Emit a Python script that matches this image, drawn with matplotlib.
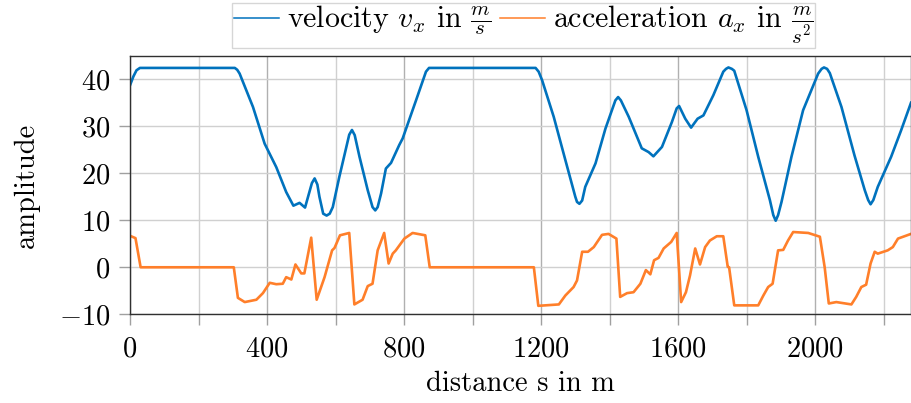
import numpy as np
import matplotlib
matplotlib.use("Agg")
import matplotlib.pyplot as plt
from matplotlib.ticker import MultipleLocator

# data
v_s = [0, 10, 19, 29, 306, 313, 320, 359, 393, 427, 456, 477, 495, 511, 531,
       539, 547, 553, 564, 574, 583, 592, 611, 640, 648, 656, 670, 694, 708, 716,
       723, 733, 747, 762, 786, 796, 835, 864, 873, 1184, 1193, 1203, 1237, 1271, 1300,
       1305, 1312, 1320, 1329, 1359, 1388, 1417, 1425, 1433, 1456, 1494, 1514, 1528, 1553, 1582,
       1596, 1603, 1611, 1621, 1638, 1657, 1674, 1703, 1732, 1740, 1747, 1757, 1764, 1800, 1834,
       1868, 1878, 1885, 1892, 1902, 1931, 1965, 2009, 2019, 2026, 2035, 2043, 2077, 2115, 2145,
       2155, 2162, 2170, 2183, 2222, 2251, 2280]
v_x = [38.7, 40.6, 41.9, 42.4, 42.4, 42.0, 41.2, 34.1, 26.3, 21.3, 16.0, 13.1, 13.7, 12.7, 17.9,
       18.9, 17.6, 15.0, 11.4, 11.0, 11.4, 12.8, 19.2, 28.2, 29.2, 28.1, 23.5, 16.4, 12.8, 12.1,
       12.8, 15.7, 21.0, 22.2, 26.0, 27.4, 35.5, 41.6, 42.4, 42.4, 41.6, 39.8, 32.0, 22.8, 15.0,
       13.9, 13.5, 14.2, 17.1, 22.1, 29.5, 35.5, 36.2, 35.5, 32.0, 25.3, 24.5, 23.6, 25.6, 30.9,
       33.8, 34.3, 33.1, 31.6, 29.7, 31.6, 32.3, 36.6, 41.6, 42.2, 42.5, 42.2, 41.8, 33.4, 23.5,
       14.3, 11.1, 9.9, 11.1, 13.9, 23.5, 33.4, 41.2, 42.2, 42.5, 42.2, 41.3, 34.1, 23.8, 16.4,
       14.3, 13.4, 14.3, 17.1, 23.5, 29.1, 35.0]

a_s = [0, 16, 31, 303, 315, 335, 369, 388, 408, 427, 446, 456, 471, 483, 500,
       509, 529, 545, 568, 590, 597, 613, 640, 655, 679, 694, 708, 723, 742, 755,
       767, 776, 801, 825, 862, 875, 1179, 1192, 1252, 1271, 1295, 1305, 1320, 1337, 1354,
       1378, 1397, 1420, 1431, 1451, 1470, 1490, 1506, 1519, 1530, 1543, 1558, 1580, 1596, 1609,
       1623, 1635, 1650, 1664, 1679, 1693, 1713, 1732, 1745, 1749, 1764, 1834, 1849, 1863, 1876,
       1892, 1907, 1921, 1936, 1980, 2014, 2028, 2040, 2062, 2106, 2120, 2135, 2149, 2162, 2174,
       2183, 2212, 2227, 2242, 2280]
a_x = [6.7, 6.2, 0, 0, -6.5, -7.4, -6.9, -5.5, -3.3, -3.6, -3.5, -2.1, -2.6, 0.6, -1.3,
       -1.3, 6.3, -6.9, -2.1, 3.6, 4.1, 6.8, 7.3, -7.9, -6.9, -4.0, -3.5, 3.6, 7.3, 0.8,
       2.9, 3.6, 6.1, 7.3, 6.8, 0, 0, -8.2, -7.9, -6.0, -4.2, -2.8, 3.3, 3.3, 4.3,
       6.9, 7.1, 6.1, -6.3, -5.5, -5.3, -3.5, -0.6, -1.5, 1.5, 2.0, 4.0, 5.4, 7.3, -7.4,
       -5.3, -1.7, 4.0, 0.6, 4.3, 5.7, 6.6, 6.6, 0.1, 0, -8.1, -8.1, -6.0, -4.2, -3.5,
       3.6, 3.7, 5.7, 7.5, 7.3, 6.5, 0, -7.7, -7.4, -7.9, -6.3, -4.2, -3.7, 0.8, 3.3,
       2.9, 3.6, 4.3, 6.1, 7.1]

# Computer-Modern-Look wie im LaTeX-Original
plt.rcParams['font.family'] = 'serif'
plt.rcParams['font.serif'] = ['cmr10']
plt.rcParams['mathtext.fontset'] = 'cm'
plt.rcParams['axes.formatter.use_mathtext'] = True
plt.rcParams['font.size'] = 20.5

fig = plt.figure(figsize=(9.11, 4.03), dpi=100)
ax = fig.add_axes([130 / 911, 88.7 / 403, 781 / 911, 258.6 / 403])

ax.plot(v_s, v_x, color='#0072bd', lw=1.9, solid_joinstyle='round',
        label=r'velocity $v_x$ in $\frac{m}{s}$')
ax.plot(a_s, a_x, color='#ff7f2a', lw=1.9, solid_joinstyle='round',
        label=r'acceleration $a_x$ in $\frac{m}{s^2}$')

ax.set_xlim(0, 2280)
ax.set_ylim(-10, 45)
ax.xaxis.set_major_locator(MultipleLocator(400))
ax.xaxis.set_minor_locator(MultipleLocator(200))
ax.yaxis.set_major_locator(MultipleLocator(10))

ax.grid(which='major', axis='x', color='#b0b0b0', lw=1.0)
ax.grid(which='minor', axis='x', color='#d0d0d0', lw=1.0)
ax.grid(which='major', axis='y', color='#d0d0d0', lw=1.0)
ax.set_axisbelow(True)

ax.tick_params(which='both', direction='out', length=8.0, width=1.0, color='#a0a0a0')
ax.tick_params(axis='x', which='both', pad=7.5)
ax.tick_params(axis='y', pad=6)
for sp in ax.spines.values():
    sp.set_color('#303030')
    sp.set_linewidth(1.0)

ax.set_xlabel('distance s in m', labelpad=6)
ax.set_ylabel('amplitude', labelpad=14)

leg = ax.legend(loc='lower center', bbox_to_anchor=(0.504, 1.03), ncol=2,
                frameon=True, fancybox=False, fontsize=21.5,
                handlelength=1.5, handletextpad=0.28, columnspacing=0.3,
                borderpad=0.05, borderaxespad=0)
leg.get_frame().set_edgecolor('#cccccc')
leg.get_frame().set_linewidth(1.0)
for h in leg.get_lines():
    h.set_linewidth(1.1)

fig.savefig('out.png', dpi=100)
